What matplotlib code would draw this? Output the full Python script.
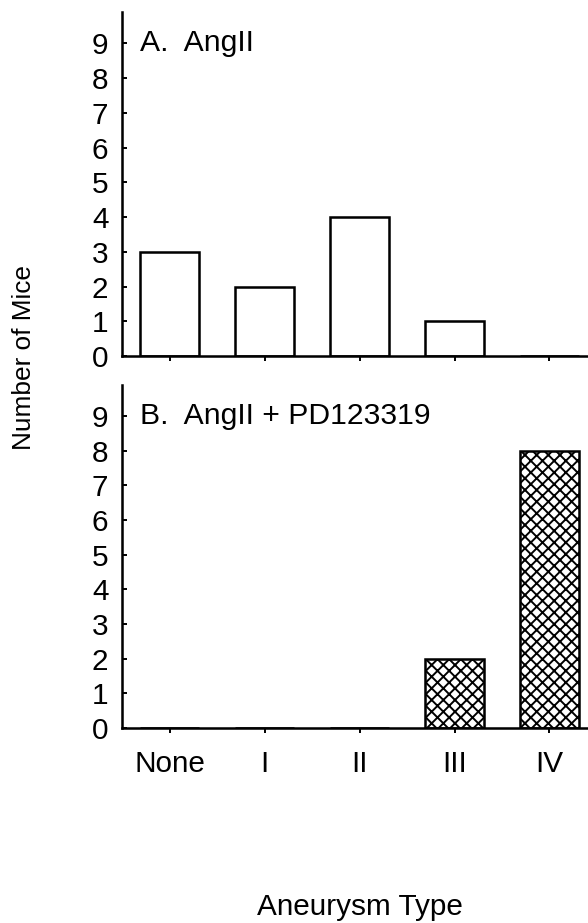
import matplotlib
matplotlib.use('Agg')
import matplotlib.pyplot as plt
import numpy as np

plt.rcParams['font.family'] = ['Liberation Sans', 'DejaVu Sans']
plt.rcParams['hatch.linewidth'] = 1.0

# aneurysm classification counts per treatment group
types = ['None', 'I', 'II', 'III', 'IV']
angii = [3, 2, 4, 1, 0]
angii_pd = [0, 0, 0, 2, 8]
yticks = list(range(10))

fig = plt.figure(figsize=(4.2, 923 / 140), dpi=140)
ax_a = fig.add_axes([0.2075, 0.6143, 0.8078, 0.3727])
ax_b = fig.add_axes([0.2075, 0.2113, 0.8078, 0.3716])

x = np.arange(len(types))
ax_a.bar(x, angii, width=0.62, color='white', edgecolor='black', linewidth=1.3)
ax_b.bar(x, angii_pd, width=0.62, color='white', edgecolor='black',
         linewidth=1.3, hatch='xxxx')

for ax, title in [(ax_a, 'A.  AngII'), (ax_b, 'B.  AngII + PD123319')]:
    ax.set_xlim(-0.5, 4.5)
    ax.set_ylim(0, 9.9)
    ax.set_yticks(yticks)
    ax.set_xticks(x)
    for side in ['top', 'right']:
        ax.spines[side].set_visible(False)
    for side in ['left', 'bottom']:
        ax.spines[side].set_linewidth(1.3)
    ax.tick_params(axis='y', direction='in', length=2.6, width=1, pad=7,
                   labelsize=15.3)
    ax.tick_params(axis='x', direction='out', length=2.6, width=1, pad=8.5,
                   labelsize=15.3)
    ax.text(-0.31, 9, title, fontsize=15.5, va='center', ha='left')

ax_a.set_xticklabels([])
ax_b.set_xticklabels(types)

fig.text(24 / 588, 1 - 358 / 923, 'Number of Mice', rotation=90,
         fontsize=13.5, ha='center', va='center')
fig.text(360 / 588, 1 - 915 / 923, 'Aneurysm Type', fontsize=15.3,
         ha='center', va='baseline')

fig.savefig('out.png', dpi=140)
